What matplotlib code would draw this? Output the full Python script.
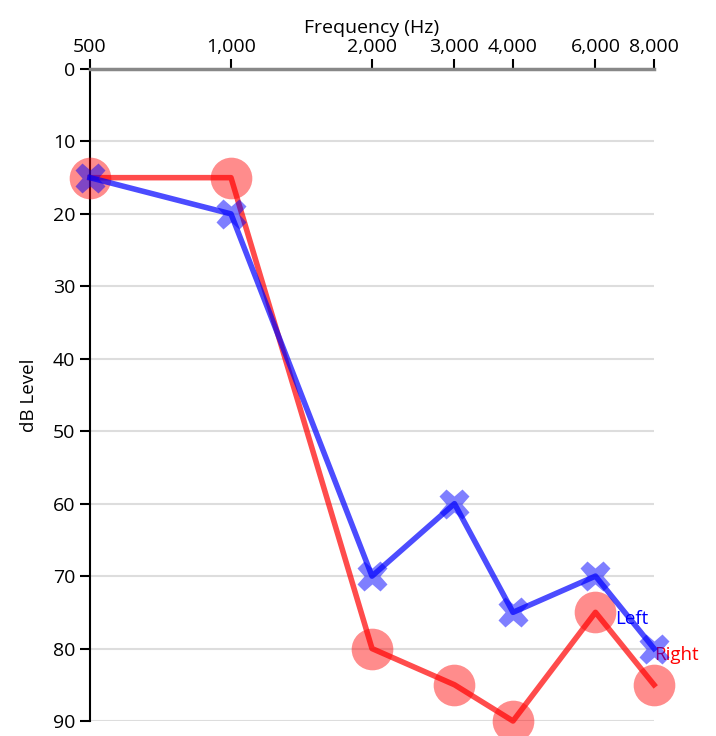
import numpy as np
import matplotlib
matplotlib.use('Agg')
import matplotlib.pyplot as plt
from matplotlib.ticker import FixedLocator, NullLocator

plt.rcParams['font.family'] = ['Open Sans', 'DejaVu Sans']

# Datos del audiograma
freqs = [500, 1000, 2000, 3000, 4000, 6000, 8000]
freq_labels = ['500', '1,000', '2,000', '3,000', '4,000', '6,000', '8,000']
left_db = [15, 20, 70, 60, 75, 70, 80]
right_db = [15, 15, 80, 85, 90, 75, 85]
y_ticks = [0, 10, 20, 30, 40, 50, 60, 70, 80, 90]

fig = plt.figure(figsize=(7.16, 7.36), dpi=100)
ax = fig.add_axes([90/716, 15/736, 564/716, 652/736])

ax.set_xscale('log')
ax.set_xlim(500, 8000)
ax.set_ylim(90, 0)

# grid
for yv in y_ticks[1:]:
    ax.axhline(yv, color='#dddddd', lw=1.5, zorder=0)

# right ear
ax.plot(freqs, right_db, '-', color='red', alpha=0.7, lw=4, zorder=2, clip_on=False)
ax.plot(freqs, right_db, 'o', color='red', alpha=0.45, ms=30, mec='none', zorder=3, clip_on=False)
# left ear
ax.plot(freqs, left_db, '-', color='blue', alpha=0.7, lw=4, zorder=4, clip_on=False)
ax.plot(freqs, left_db, 'X', color='blue', alpha=0.5, ms=22, mec='none', zorder=5, clip_on=False)

ax.annotate('Left', (6000, 75.9), xytext=(14, 0), textcoords='offset points',
            color='blue', fontsize=13.5, va='center', ha='left')
ax.annotate('Right', (8000, 80.9), xytext=(0, 0), textcoords='offset points',
            color='red', fontsize=13.5, va='center', ha='left', annotation_clip=False)

ax.xaxis.set_major_locator(FixedLocator(freqs))
ax.xaxis.set_minor_locator(NullLocator())
ax.set_xticklabels(freq_labels)
ax.xaxis.tick_top()
ax.xaxis.set_label_position('top')
ax.set_xlabel('Frequency (Hz)', fontsize=14, labelpad=4)
ax.set_yticks(y_ticks)
ax.set_ylabel('dB Level', fontsize=13.5, labelpad=11)
ax.tick_params(axis='both', labelsize=14, length=7, width=1.5, color='black', direction='out')
ax.tick_params(axis='x', pad=2)

for s in ['right', 'bottom']:
    ax.spines[s].set_visible(False)
ax.spines['top'].set_color('#888888')
ax.spines['top'].set_linewidth(2.5)
ax.spines['left'].set_color('black')
ax.spines['left'].set_linewidth(1.5)

fig.savefig('out.png', dpi=100)
